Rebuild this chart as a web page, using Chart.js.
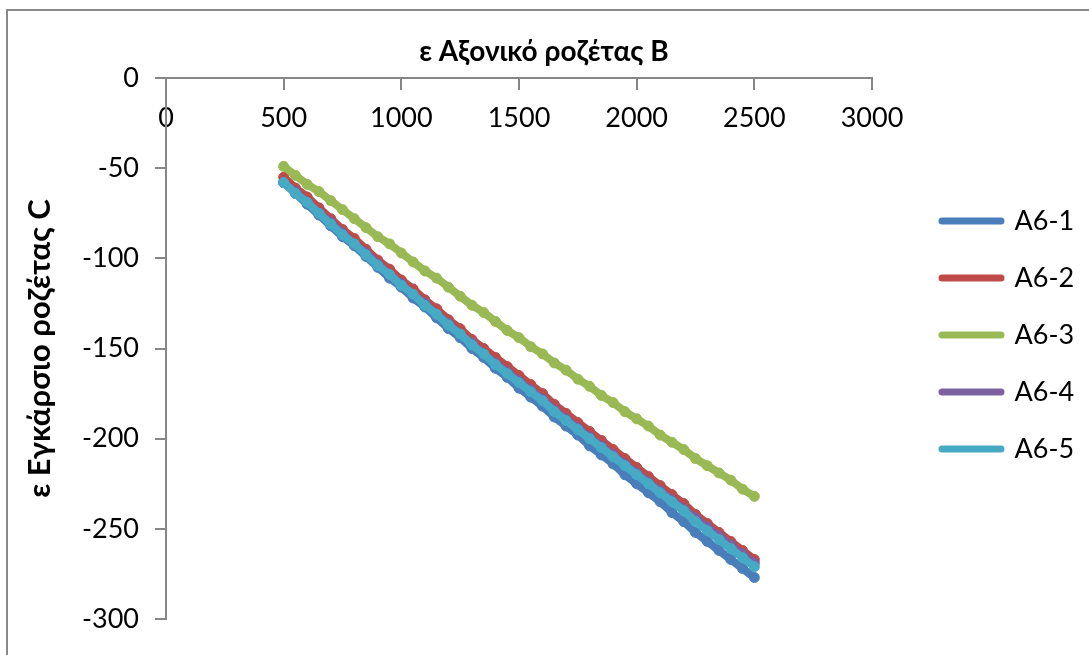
<!DOCTYPE html>
<html>
<head>
<meta charset="utf-8">
<script src="https://cdn.jsdelivr.net/npm/chart.js@4.4.1/dist/chart.umd.min.js"></script>
<style>
  html, body { margin: 0; padding: 0; background: #fff; overflow: hidden; }
  #frame { position: absolute; left: 6px; top: 9px; width: 1120px; height: 700px; border: 2px solid #898989; }
  #c { position: absolute; left: 0; top: 0; }
</style>
</head>
<body>
<div id="frame"></div>
<canvas id="c" width="1089" height="655"></canvas>
<script>
// ε Αξονικό (x) — κοινό για όλες τις σειρές
const strainB = [500, 550, 600, 650, 700, 750, 800, 850, 900, 950,
                 1000, 1050, 1100, 1150, 1200, 1250, 1300, 1350, 1400, 1450,
                 1500, 1550, 1600, 1650, 1700, 1750, 1800, 1850, 1900, 1950,
                 2000, 2050, 2100, 2150, 2200, 2250, 2300, 2350, 2400, 2450, 2500];

// ε Εγκάρσιο (y) ανά δοκίμιο
const a6_1 = [-58, -64, -70, -76, -82, -88, -93, -99, -105, -111,
              -116, -122, -127, -133, -139, -144, -150, -155, -161, -166,
              -172, -177, -182, -188, -193, -198, -204, -209, -214, -220,
              -225, -230, -235, -241, -246, -252, -257, -262, -267, -272, -277];
const a6_2 = [-55, -61, -66, -72, -78, -84, -89, -95, -101, -106,
              -112, -117, -123, -128, -134, -139, -145, -150, -155, -160,
              -165, -170, -175, -181, -186, -191, -196, -201, -206, -211,
              -216, -221, -226, -231, -236, -242, -247, -252, -257, -262, -267];
const a6_3 = [-49, -54, -59, -63, -68, -73, -78, -83, -88, -92,
              -97, -102, -107, -111, -116, -121, -126, -130, -135, -140,
              -144, -149, -153, -158, -162, -167, -171, -176, -180, -185,
              -189, -193, -198, -202, -206, -211, -215, -219, -223, -228, -232];
const a6_4 = [-58, -63, -69, -75, -80, -86, -92, -97, -103, -109,
              -114, -120, -125, -131, -136, -142, -147, -153, -158, -163,
              -168, -173, -178, -184, -189, -194, -199, -204, -209, -214,
              -219, -224, -229, -234, -239, -244, -249, -254, -259, -264, -269];
const a6_5 = [-58, -64, -69, -75, -81, -87, -92, -98, -104, -109,
              -115, -120, -126, -131, -137, -142, -148, -153, -159, -164,
              -169, -174, -179, -185, -190, -195, -200, -205, -210, -215,
              -220, -225, -230, -235, -240, -246, -251, -256, -261, -266, -271];

const seriesNames  = ['A6-1', 'A6-2', 'A6-3', 'A6-4', 'A6-5'];
const seriesValues = [a6_1, a6_2, a6_3, a6_4, a6_5];
const seriesColors = ['#4A7EBB', '#BE4B48', '#98B954', '#7D60A0', '#46AAC5'];

const GRAY = '#868686';
Chart.defaults.font.family = 'Lato, "Noto Sans", sans-serif';
Chart.defaults.color = '#000';

const datasets = seriesNames.map((name, i) => ({
    label: name,
    data: strainB.map((x, k) => ({ x, y: seriesValues[i][k] })),
    showLine: true,
    borderColor: seriesColors[i],
    backgroundColor: seriesColors[i],
    pointBackgroundColor: seriesColors[i],
    pointBorderColor: seriesColors[i],
    borderWidth: 8,
    borderCapStyle: 'round',
    borderJoinStyle: 'round',
    pointRadius: 5,
    pointBorderWidth: 1,
    tension: 0,
    order: seriesNames.length - 1 - i   // A6-5 πάνω-πάνω, όπως στο Excel
}));

// μετακίνηση υπομνήματος/τίτλου στη θέση του Excel
const nudge = {
    id: 'nudge',
    afterLayout(chart) {
        const lg = chart.legend;
        lg.left += 40; lg.right = 1089;
        lg.top -= 13.5; lg.bottom -= 13.5;
        const t = chart.titleBlock;
        t.left += 33; t.right += 33;
    }
};

const plainNum = (v) => String(v);

new Chart(document.getElementById('c').getContext('2d'), {
    type: 'scatter',
    data: { datasets },
    plugins: [nudge],
    options: {
        responsive: false,
        animation: false,
        layout: { padding: { top: 0, left: 0, right: 67, bottom: 36 } },
        plugins: {
            title: {
                display: true,
                text: 'ε Αξονικό ροζέτας B',
                color: '#000',
                font: { size: 28, weight: 'bold' },
                padding: { top: 35.2, bottom: 9.2 }
            },
            legend: {
                position: 'right',
                align: 'center',
                fullSize: false,
                maxWidth: 150,
                labels: {
                    usePointStyle: true,
                    pointStyle: 'line',
                    pointStyleWidth: 59,
                    padding: 30,
                    font: { size: 27 },
                    color: '#000',
                    generateLabels(chart) {
                        const items = Chart.defaults.plugins.legend.labels.generateLabels(chart);
                        items.forEach(it => {
                            it.lineWidth = 7;
                            it.strokeStyle = seriesColors[it.datasetIndex];
                            it.fillStyle = seriesColors[it.datasetIndex];
                            it.lineCap = 'round';
                        });
                        return items;
                    },
                    sort: (a, b) => a.datasetIndex - b.datasetIndex
                }
            },
            tooltip: { enabled: false }
        },
        scales: {
            x: {
                type: 'linear',
                position: { y: 0 },
                min: 0, max: 3000,
                ticks: { stepSize: 500, font: { size: 27 }, color: '#000', padding: 13, callback: plainNum },
                grid: { drawOnChartArea: false, drawTicks: true, tickLength: 11, color: GRAY, lineWidth: 2 },
                border: { display: true, color: GRAY, width: 2 }
            },
            y: {
                type: 'linear',
                position: 'left',
                min: -300, max: 0,
                ticks: { stepSize: 50, font: { size: 27 }, color: '#000', padding: 16, callback: plainNum },
                grid: { drawOnChartArea: false, drawTicks: true, tickLength: 11, color: GRAY, lineWidth: 2 },
                border: { display: true, color: GRAY, width: 2 },
                title: {
                    display: true,
                    text: 'ε Εγκάρσιο ροζέτας C',
                    color: '#000',
                    font: { size: 31, weight: 'bold' },
                    padding: { top: 21.4, bottom: 0 }
                },
                afterFit(s) { s.width = 166; }
            }
        }
    }
});
</script>
</body>
</html>
